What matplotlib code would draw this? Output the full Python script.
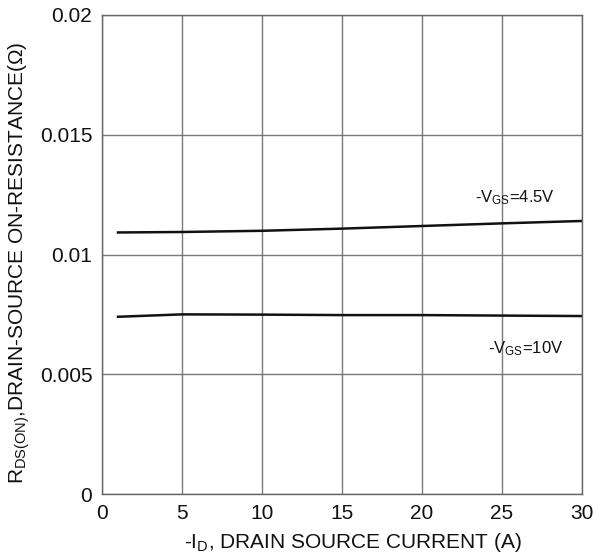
import matplotlib
matplotlib.use("Agg")
import matplotlib.pyplot as plt

plt.rcParams['font.family'] = ['Liberation Sans', 'DejaVu Sans']
plt.rcParams['mathtext.default'] = 'regular'

# Data
current = [1, 5, 10, 15, 20, 25, 30]
r_vgs45 = [0.01092, 0.01094, 0.01099, 0.01108, 0.01119, 0.0113, 0.0114]
r_vgs10 = [0.00740, 0.00750, 0.00749, 0.00747, 0.00747, 0.00745, 0.00743]
xticks = [0, 5, 10, 15, 20, 25, 30]
yticks = [0, 0.005, 0.01, 0.015, 0.02]
ytick_labels = ['0', '0.005', '0.01', '0.015', '0.02']

W, H = 593, 557
fig = plt.figure(figsize=(W / 100, H / 100), dpi=100)
ax = fig.add_axes([102 / W, (H - 494) / H, 480 / W, 479 / H])

ax.plot(current, r_vgs45, color='#111111', lw=1.8)
ax.plot(current, r_vgs10, color='#111111', lw=1.8)

ax.set_xlim(0, 30)
ax.set_ylim(0, 0.02)
ax.set_xticks(xticks)
ax.set_xticklabels([str(t) for t in xticks])
ax.set_yticks(yticks)
ax.set_yticklabels(ytick_labels)
ax.tick_params(axis='both', length=0, labelsize=15, colors='#111111')
ax.tick_params(axis='y', pad=7)
ax.tick_params(axis='x', pad=7)
ax.grid(True, color='#7a7a7a', lw=1.0)
for s in ax.spines.values():
    s.set_color('#666666')
    s.set_linewidth(1.0)

fig.text(353 / W, 1 - 548 / H, r'-I$_{D}$, DRAIN SOURCE CURRENT (A)',
         fontsize=15, ha='center', va='baseline', color='#111111')
fig.text(19 / W, 1 - 263 / H, r'R$_{DS(ON)}$,DRAIN-SOURCE ON-RESISTANCE($\Omega$)',
         rotation=90, ha='center', va='center', fontsize=15, color='#111111')

ax.text(23.3, 0.01219, r'-V$_{GS}$=4.5V', fontsize=12, ha='left', va='baseline', color='#111111')
ax.text(24.1, 0.00589, r'-V$_{GS}$=10V', fontsize=12, ha='left', va='baseline', color='#111111')

fig.savefig('out.png', dpi=100)
